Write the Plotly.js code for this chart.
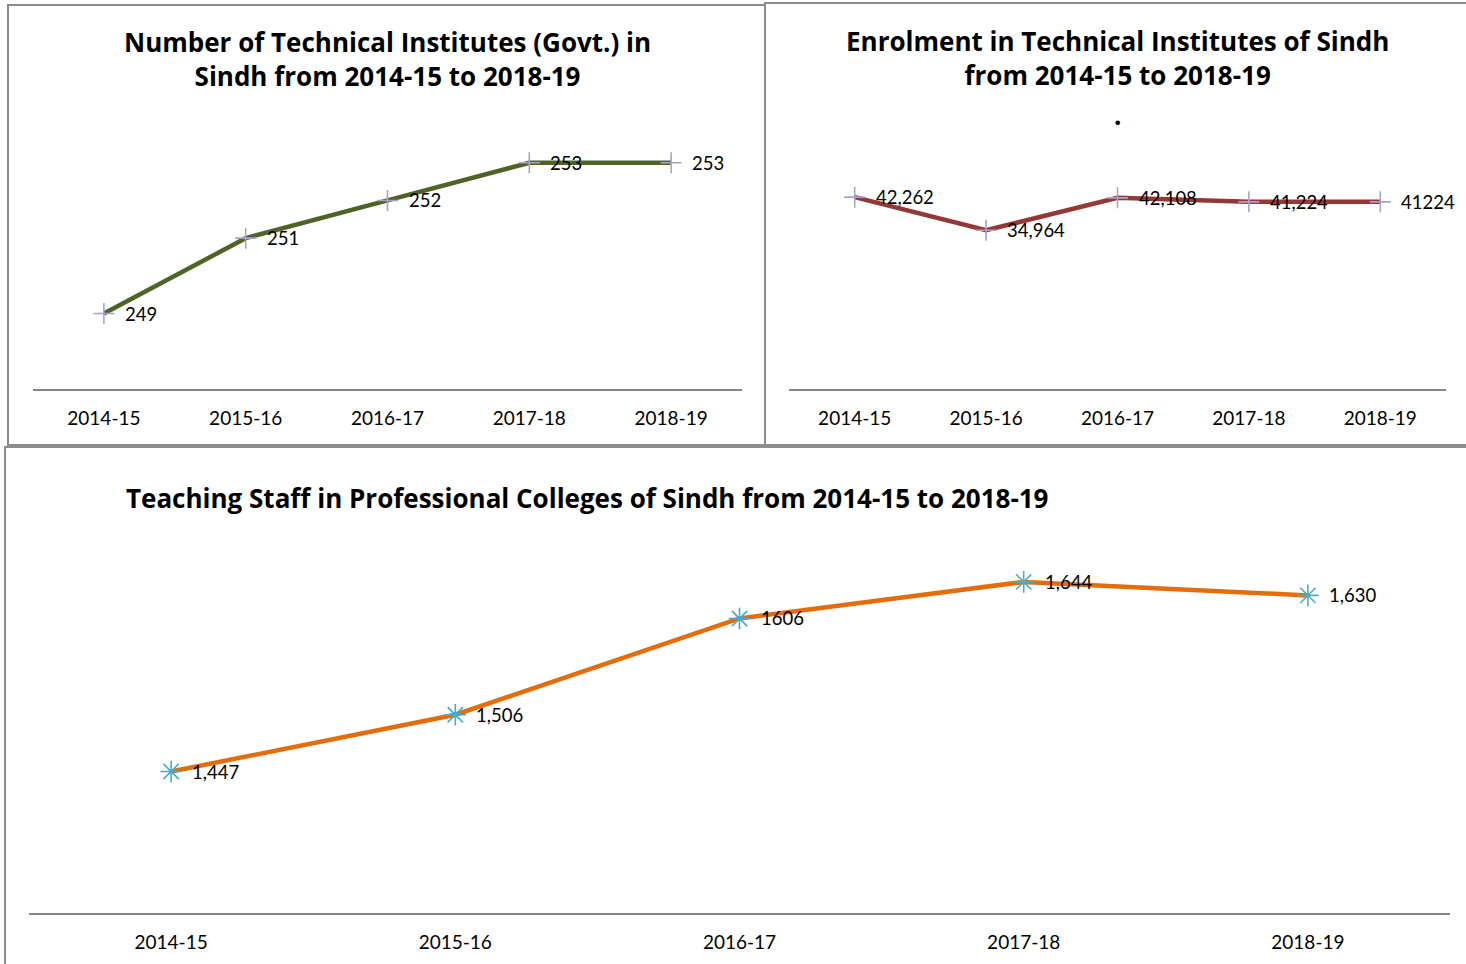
<!DOCTYPE html>
<html><head><meta charset="utf-8">
<script src="https://cdn.plot.ly/plotly-3.0.1.min.js"></script>
<style>html,body{margin:0;padding:0;background:#fff}#c{width:1466px;height:964px}</style>
</head><body><div id="c"></div>
<script>
const years = ["2014-15","2015-16","2016-17","2017-18","2018-19"];
const institutes = [249, 251, 252, 253, 253];
const instituteLabels = ["249","251","252","253","253"];
const enrolment = [42262, 34964, 42108, 41224, 41224];
const enrolmentLabels = ["42,262","34,964","42,108","41,224","41224"];
const staff = [1447, 1506, 1606, 1644, 1630];
const staffLabels = ["1,447","1,506","1606","1,644","1,630"];

const W = 1466, H = 964;
const fx = p => p / W, fy = p => 1 - p / H;
const FONT = "Lato, 'Open Sans', sans-serif";
const TFONT = "'Open Sans', sans-serif";

const traces = [
  {x: years, y: institutes, xaxis: "x", yaxis: "y", mode: "lines+markers", type: "scatter",
   line: {color: "#4F6228", width: 4.5},
   marker: {symbol: "cross-thin-open", size: 15, color: "#A8A4C8", line: {color: "#A8A4C8", width: 1.6}}},
  {x: years, y: enrolment, xaxis: "x2", yaxis: "y2", mode: "lines+markers", type: "scatter",
   line: {color: "#953735", width: 4.5},
   marker: {symbol: "cross-thin-open", size: 15, color: "#A8A4C8", line: {color: "#A8A4C8", width: 1.6}}},
  {x: years, y: staff, xaxis: "x3", yaxis: "y3", mode: "lines+markers", type: "scatter",
   line: {color: "#E46C0A", width: 4.5},
   marker: {symbol: "asterisk-open", size: 18, color: "#4BACC6", line: {color: "#4BACC6", width: 1.6}}}
];

const ann = [];
function addLabels(xs, ys, labels, xa, ya) {
  xs.forEach((x, i) => ann.push({x: x, y: ys[i], xref: xa, yref: ya, text: labels[i],
    showarrow: false, xanchor: "left", yanchor: "middle", xshift: 19,
    font: {family: FONT, size: 18.5, color: "#000"}}));
}
addLabels(years, institutes, instituteLabels, "x", "y");
addLabels(years, enrolment, enrolmentLabels, "x2", "y2");
addLabels(years, staff, staffLabels, "x3", "y3");

const titleFont = {family: TFONT, size: 26, color: "#000", weight: "bold"};
ann.push({xref: "paper", yref: "paper", x: fx(387), y: fy(59), text: "<b>Number of Technical Institutes (Govt.) in<br>Sindh from 2014-15 to 2018-19</b>",
  showarrow: false, xanchor: "center", yanchor: "middle", font: titleFont});
ann.push({xref: "paper", yref: "paper", x: fx(1117), y: fy(58), text: "<b>Enrolment in Technical Institutes of Sindh<br>from 2014-15 to 2018-19</b>",
  showarrow: false, xanchor: "center", yanchor: "middle", font: titleFont});
ann.push({xref: "paper", yref: "paper", x: fx(1117), y: fy(115), text: "<b>.</b>",
  showarrow: false, xanchor: "center", yanchor: "middle", font: titleFont});
ann.push({xref: "paper", yref: "paper", x: fx(124), y: fy(498), text: "<b>Teaching Staff in Professional Colleges of Sindh from 2014-15 to 2018-19</b>",
  showarrow: false, xanchor: "left", yanchor: "middle", font: titleFont});

const xaxisBase = {type: "category", range: [-0.5, 4.5], showline: true, linecolor: "#868686", linewidth: 2,
  showgrid: false, zeroline: false, ticks: "", tickfont: {family: FONT, size: 19, color: "#000"}, fixedrange: true, ticklabelstandoff: 11};
const yBase = {visible: false, showgrid: false, zeroline: false, fixedrange: true};

const border = "#8C8C8C";
const shapes = [
  {type: "rect", xref: "paper", yref: "paper", x0: fx(8), x1: fx(765), y0: fy(445), y1: fy(5), line: {color: border, width: 2}},
  {type: "rect", xref: "paper", yref: "paper", x0: fx(765), x1: fx(1470), y0: fy(445), y1: fy(3), line: {color: border, width: 2}},
  {type: "rect", xref: "paper", yref: "paper", x0: fx(5), x1: fx(1470), y0: fy(970), y1: fy(447), line: {color: border, width: 2}}
];

const layout = {
  width: W, height: H, margin: {l: 0, r: 0, t: 0, b: 0}, showlegend: false,
  paper_bgcolor: "#fff", plot_bgcolor: "rgba(0,0,0,0)",
  xaxis: Object.assign({}, xaxisBase, {domain: [fx(33), fx(742)], anchor: "y"}),
  yaxis: Object.assign({}, yBase, {domain: [fy(389), fy(125)], range: [247, 254], anchor: "x"}),
  xaxis2: Object.assign({}, xaxisBase, {domain: [fx(789), fx(1446)], anchor: "y2"}),
  yaxis2: Object.assign({}, yBase, {domain: [fy(389), fy(162)], range: [0, 50000], anchor: "x2"}),
  xaxis3: Object.assign({}, xaxisBase, {domain: [fx(29), fx(1450)], anchor: "y3"}),
  yaxis3: Object.assign({}, yBase, {domain: [fy(913), fy(528)], range: [1300, 1700], anchor: "x3"}),
  annotations: ann, shapes: shapes
};
Plotly.newPlot("c", traces, layout, {displayModeBar: false, staticPlot: true});
</script></body></html>
